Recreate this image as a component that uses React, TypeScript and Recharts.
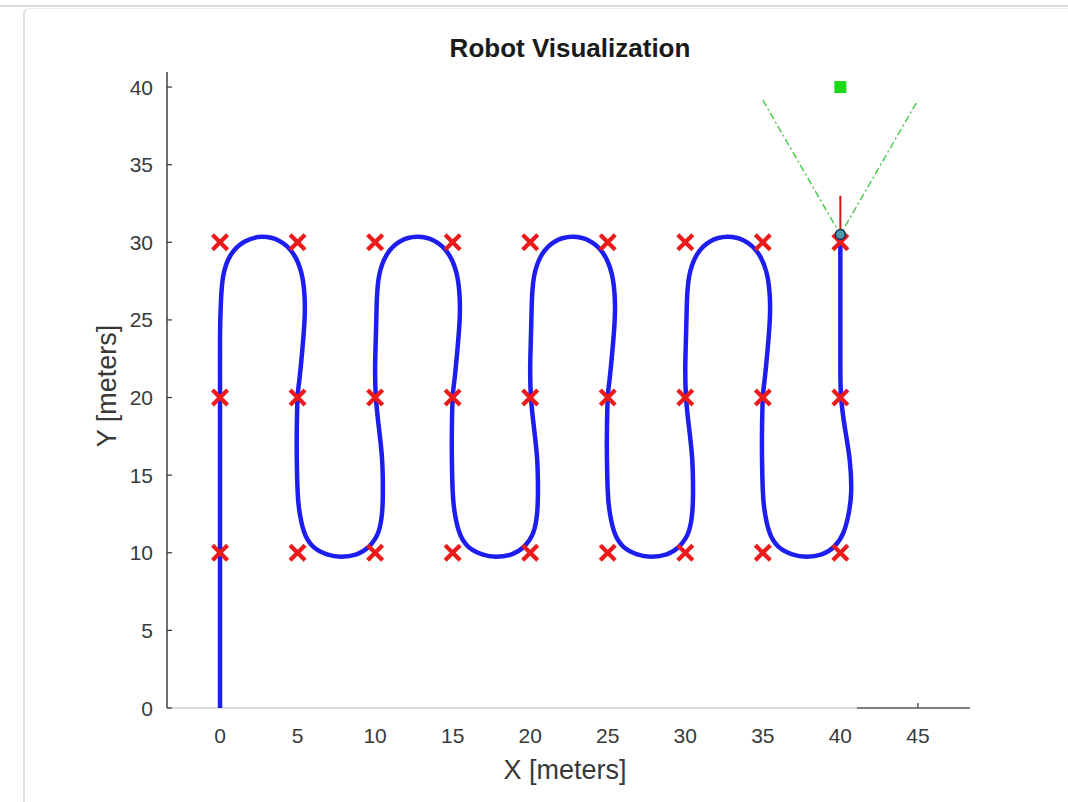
import { ComposedChart, Line, Scatter, XAxis, YAxis, ReferenceLine } from 'recharts';

// robot trajectory, [x, y] in meters
const robotPath: [number, number][] = [
  [0, 0], [0, 3], [0, 6], [0, 9], [0, 12], [0, 15], [0, 18], [0, 21], [0, 24], [0.05, 26],
  [0.2, 27.8], [0.7, 29.2], [1.6, 30.05], [2.7, 30.35], [3.8, 30.1], [4.7, 29.3], [5.25, 28], [5.45, 26.5],
  [5.45, 25], [5.3, 23], [5.1, 21], [5.0, 20], [4.95, 18], [4.95, 16], [5.0, 14], [5.1, 12.8],
  [5.4, 11.4], [6.0, 10.4], [6.9, 9.9], [7.8, 9.75], [8.8, 9.9], [9.6, 10.4], [10.2, 11.3], [10.45, 12.6],
  [10.5, 14], [10.45, 16], [10.25, 18], [10.05, 20], [10.0, 22], [10.05, 24], [10.1, 26],
  [10.25, 27.8], [10.75, 29.2], [11.6, 30.05], [12.7, 30.35], [13.8, 30.1], [14.7, 29.3], [15.25, 28], [15.45, 26.5],
  [15.45, 25], [15.3, 23], [15.1, 21], [15.0, 20], [14.95, 18], [14.95, 16], [15.0, 14], [15.1, 12.8],
  [15.4, 11.4], [16.0, 10.4], [16.9, 9.9], [17.8, 9.75], [18.8, 9.9], [19.6, 10.4], [20.2, 11.3], [20.45, 12.6],
  [20.5, 14], [20.45, 16], [20.25, 18], [20.05, 20], [20.0, 22], [20.05, 24], [20.1, 26],
  [20.25, 27.8], [20.75, 29.2], [21.6, 30.05], [22.7, 30.35], [23.8, 30.1], [24.7, 29.3], [25.25, 28], [25.45, 26.5],
  [25.45, 25], [25.3, 23], [25.1, 21], [25.0, 20], [24.95, 18], [24.95, 16], [25.0, 14], [25.1, 12.8],
  [25.4, 11.4], [26.0, 10.4], [26.9, 9.9], [27.8, 9.75], [28.8, 9.9], [29.6, 10.4], [30.2, 11.3], [30.45, 12.6],
  [30.5, 14], [30.45, 16], [30.25, 18], [30.05, 20], [30.0, 22], [30.05, 24], [30.1, 26],
  [30.25, 27.8], [30.75, 29.2], [31.6, 30.05], [32.7, 30.35], [33.8, 30.1], [34.7, 29.3], [35.25, 28], [35.45, 26.5],
  [35.45, 25], [35.3, 23], [35.1, 21], [35.0, 20], [34.95, 18], [34.95, 16], [35.0, 14], [35.1, 12.8],
  [35.4, 11.4], [36.0, 10.4], [36.9, 9.9], [37.8, 9.75], [38.8, 9.9], [39.6, 10.4], [40.2, 11.3], [40.55, 12.6],
  [40.7, 14], [40.6, 16], [40.3, 18], [40.05, 20], [40.0, 22], [40.0, 24], [40.0, 26], [40.0, 28], [40.0, 30.5],
];

const waypointCols = [0, 5, 10, 15, 20, 25, 30, 35, 40];
const waypointRows = [10, 20, 30];

const goal = [{ x: 40, y: 40 }];
const robotPose = [{ x: 40, y: 30.5 }];
const headingTip = [{ x: 40, y: 30.5 }, { x: 40, y: 33 }];
const sensorCone = [{ x: 35, y: 39.16 }, { x: 40, y: 30.5 }, { x: 45, y: 39.16 }];

const xTicks = [0, 5, 10, 15, 20, 25, 30, 35, 40, 45];
const yTicks = [0, 5, 10, 15, 20, 25, 30, 35, 40];

const pathData = robotPath.map(([x, y]) => ({ x, y }));
const waypoints = waypointCols.flatMap((x) => waypointRows.map((y) => ({ x, y })));

const FONT = '"Liberation Sans", Arial, sans-serif';
const TICK_COLOR = '#3a3a3a';
const PLOT_LEFT = 167;
const PLOT_BOTTOM = 708;

const XMark = (props: any) => {
  const { cx, cy } = props;
  const s = 7.5;
  return (
    <g stroke="#ec1b1b" strokeWidth={4.2} strokeLinecap="butt">
      <line x1={cx - s} y1={cy - s} x2={cx + s} y2={cy + s} />
      <line x1={cx - s} y1={cy + s} x2={cx + s} y2={cy - s} />
    </g>
  );
};

const GoalMark = (props: any) => (
  <rect x={props.cx - 6} y={props.cy - 6} width={12} height={12} fill="#19d919" />
);

const RobotMark = (props: any) => (
  <circle cx={props.cx} cy={props.cy} r={5} fill="#4e9aa8" stroke="#18305a" strokeWidth={1.5} />
);

const YTick = (props: any) => {
  const { y, payload } = props;
  return (
    <g>
      <line x1={PLOT_LEFT} y1={y} x2={PLOT_LEFT + 5} y2={y} stroke="#333" strokeWidth={1.2} />
      <text x={PLOT_LEFT - 14} y={y} dy={7.5} textAnchor="end" fontFamily={FONT} fontSize={21} fill={TICK_COLOR}>
        {payload.value}
      </text>
    </g>
  );
};

const XTick = (props: any) => {
  const { x, payload } = props;
  return (
    <g>
      {payload.value === 45 && (
        <line x1={x} y1={PLOT_BOTTOM} x2={x} y2={PLOT_BOTTOM - 5} stroke="#333" strokeWidth={1.2} />
      )}
      <text x={x} y={PLOT_BOTTOM + 35} textAnchor="middle" fontFamily={FONT} fontSize={21} fill={TICK_COLOR}>
        {payload.value}
      </text>
    </g>
  );
};

export default function App() {
  return (
    <div style={{ position: 'absolute', left: 0, top: 0, width: 1068, height: 802, background: '#fff', overflow: 'hidden' }}>
      <div style={{ position: 'absolute', left: 0, top: 5, width: 1068, height: 2, background: '#dadada' }} />
      <div
        style={{
          position: 'absolute', left: 23, top: 8, width: 1060, height: 800,
          borderLeft: '2px solid #e0e0e0', borderTop: '1px solid #ececec', borderTopLeftRadius: 6,
        }}
      />
      <div
        style={{
          position: 'absolute', left: 0, width: 1140, top: 33, textAlign: 'center',
          fontFamily: FONT, fontWeight: 'bold', fontSize: 26, color: '#1a1a1a',
        }}
      >
        Robot Visualization
      </div>
      <div
        style={{
          position: 'absolute', left: 0, width: 1130, top: 755, textAlign: 'center',
          fontFamily: FONT, fontSize: 27, color: '#383838',
        }}
      >
        X [meters]
      </div>
      <div
        style={{
          position: 'absolute', left: 107, top: 386, transform: 'translate(-50%, -50%) rotate(-90deg)',
          fontFamily: FONT, fontSize: 27, color: '#383838', whiteSpace: 'nowrap',
        }}
      >
        Y [meters]
      </div>
      <div style={{ position: 'absolute', left: 0, top: 0 }}>
        <ComposedChart width={1068} height={802} margin={{ top: 72, right: 98, bottom: 34, left: 107 }}>
          <XAxis
            type="number"
            dataKey="x"
            domain={[-3.42, 48.36]}
            allowDataOverflow
            ticks={xTicks}
            interval={0}
            height={60}
            axisLine={false}
            tickLine={false}
            tick={<XTick />}
          />
          <YAxis
            type="number"
            dataKey="y"
            domain={[0, 40.97]}
            allowDataOverflow
            ticks={yTicks}
            interval={0}
            width={60}
            axisLine={{ stroke: '#404040', strokeWidth: 1.5 }}
            tickLine={false}
            tick={<YTick />}
          />
          <ReferenceLine
            segment={[{ x: -3.42, y: 0 }, { x: 41.07, y: 0 }]}
            stroke="#cfcfcf"
            strokeWidth={1.5}
            ifOverflow="visible"
          />
          <ReferenceLine
            segment={[{ x: 41.07, y: 0 }, { x: 48.36, y: 0 }]}
            stroke="#555"
            strokeWidth={1.5}
            ifOverflow="visible"
          />
          <Line
            data={pathData}
            dataKey="y"
            type="natural"
            stroke="#1d1df0"
            strokeWidth={4.5}
            dot={false}
            isAnimationActive={false}
          />
          <Line
            data={sensorCone}
            dataKey="y"
            type="linear"
            stroke="#44c844"
            strokeWidth={1.4}
            strokeDasharray="7 3 2 3"
            dot={false}
            isAnimationActive={false}
          />
          <Scatter data={waypoints} shape={<XMark />} isAnimationActive={false} />
          <Line
            data={headingTip}
            dataKey="y"
            type="linear"
            stroke="#d41414"
            strokeWidth={2}
            dot={false}
            isAnimationActive={false}
          />
          <Scatter data={robotPose} shape={<RobotMark />} isAnimationActive={false} />
          <Scatter data={goal} shape={<GoalMark />} isAnimationActive={false} />
        </ComposedChart>
      </div>
    </div>
  );
}
